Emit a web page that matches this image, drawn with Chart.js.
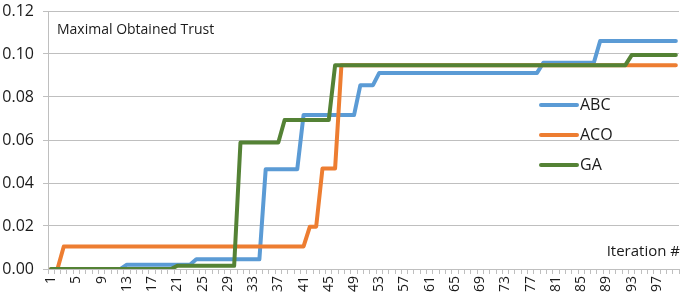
<!DOCTYPE html>
<html lang="en">
<head>
    <meta charset="UTF-8">
    <title>Maximal Obtained Trust</title>
    <script src="https://cdn.jsdelivr.net/npm/chart.js"></script>
    <style>
        body { margin: 0; background: #fff; }
    </style>
</head>
<body>
    <canvas id="trustChart" width="685" height="299"></canvas>
    <script>
        // Iteration numbers 1..100
        const iterations = Array.from({ length: 100 }, (_, i) => String(i + 1));

        const abc = [
            0, 0, 0, 0, 0, 0, 0, 0, 0, 0, 0, 0,
            0.002, 0.002, 0.002, 0.002, 0.002, 0.002, 0.002, 0.002, 0.002, 0.002, 0.002,
            0.0045, 0.0045, 0.0045, 0.0045, 0.0045, 0.0045, 0.0045, 0.0045, 0.0045, 0.0045, 0.0045,
            0.0464, 0.0464, 0.0464, 0.0464, 0.0464, 0.0464,
            0.0716, 0.0716, 0.0716, 0.0716, 0.0716, 0.0716, 0.0716, 0.0716, 0.0716,
            0.0855, 0.0855, 0.0855,
            0.0912, 0.0912, 0.0912, 0.0912, 0.0912, 0.0912, 0.0912, 0.0912, 0.0912, 0.0912,
            0.0912, 0.0912, 0.0912, 0.0912, 0.0912, 0.0912, 0.0912, 0.0912, 0.0912, 0.0912,
            0.0912, 0.0912, 0.0912, 0.0912, 0.0912, 0.0912,
            0.0959, 0.0959, 0.0959, 0.0959, 0.0959, 0.0959, 0.0959, 0.0959, 0.0959,
            0.106, 0.106, 0.106, 0.106, 0.106, 0.106, 0.106, 0.106, 0.106, 0.106, 0.106, 0.106, 0.106
        ];
        const aco = [
            0, 0,
            0.0105, 0.0105, 0.0105, 0.0105, 0.0105, 0.0105, 0.0105, 0.0105, 0.0105, 0.0105,
            0.0105, 0.0105, 0.0105, 0.0105, 0.0105, 0.0105, 0.0105, 0.0105, 0.0105, 0.0105,
            0.0105, 0.0105, 0.0105, 0.0105, 0.0105, 0.0105, 0.0105, 0.0105, 0.0105, 0.0105,
            0.0105, 0.0105, 0.0105, 0.0105, 0.0105, 0.0105, 0.0105, 0.0105, 0.0105,
            0.0197, 0.0197,
            0.0468, 0.0468, 0.0468,
            0.0948, 0.0948, 0.0948, 0.0948, 0.0948, 0.0948, 0.0948, 0.0948, 0.0948, 0.0948,
            0.0948, 0.0948, 0.0948, 0.0948, 0.0948, 0.0948, 0.0948, 0.0948, 0.0948, 0.0948,
            0.0948, 0.0948, 0.0948, 0.0948, 0.0948, 0.0948, 0.0948, 0.0948, 0.0948, 0.0948,
            0.0948, 0.0948, 0.0948, 0.0948, 0.0948, 0.0948, 0.0948, 0.0948, 0.0948, 0.0948,
            0.0948, 0.0948, 0.0948, 0.0948, 0.0948, 0.0948, 0.0948, 0.0948, 0.0948, 0.0948,
            0.0948, 0.0948, 0.0948, 0.0948
        ];
        const ga = [
            0, 0, 0, 0, 0, 0, 0, 0, 0, 0, 0, 0, 0, 0, 0, 0, 0, 0, 0, 0,
            0.0015, 0.0015, 0.0015, 0.0015, 0.0015, 0.0015, 0.0015, 0.0015, 0.0015, 0.0015,
            0.0588, 0.0588, 0.0588, 0.0588, 0.0588, 0.0588, 0.0588,
            0.0693, 0.0693, 0.0693, 0.0693, 0.0693, 0.0693, 0.0693, 0.0693,
            0.0948, 0.0948, 0.0948, 0.0948, 0.0948, 0.0948, 0.0948, 0.0948, 0.0948, 0.0948,
            0.0948, 0.0948, 0.0948, 0.0948, 0.0948, 0.0948, 0.0948, 0.0948, 0.0948, 0.0948,
            0.0948, 0.0948, 0.0948, 0.0948, 0.0948, 0.0948, 0.0948, 0.0948, 0.0948, 0.0948,
            0.0948, 0.0948, 0.0948, 0.0948, 0.0948, 0.0948, 0.0948, 0.0948, 0.0948, 0.0948,
            0.0948, 0.0948, 0.0948, 0.0948, 0.0948, 0.0948, 0.0948,
            0.0995, 0.0995, 0.0995, 0.0995, 0.0995, 0.0995, 0.0995, 0.0995
        ];

        const seriesNames = ['ABC', 'ACO', 'GA'];
        const seriesColors = ['#5B9BD5', '#ED7D31', '#548235'];
        const FONT = '"Open Sans", sans-serif';

        // Title, axis caption and legend drawn inside the plot like the Excel original
        const overlayText = {
            id: 'overlayText',
            afterDraw(chart) {
                const { ctx, chartArea: a } = chart;
                ctx.save();
                ctx.fillStyle = '#1a1a1a';
                ctx.textBaseline = 'middle';
                ctx.font = '14px ' + FONT;
                ctx.textAlign = 'left';
                ctx.fillText('Maximal Obtained Trust', a.left + 9, 30);
                ctx.font = '15px ' + FONT;
                ctx.textAlign = 'right';
                ctx.fillText('Iteration #', a.right + 1, 252);
                ctx.textAlign = 'left';
                ctx.font = '16px ' + FONT;
                seriesNames.forEach((name, i) => {
                    const y = 105 + i * 30;
                    ctx.strokeStyle = seriesColors[i];
                    ctx.lineWidth = 4;
                    ctx.lineCap = 'round';
                    ctx.beginPath();
                    ctx.moveTo(541, y);
                    ctx.lineTo(577, y);
                    ctx.stroke();
                    ctx.fillText(name, 580, y);
                });
                ctx.restore();
            }
        };

        const datasets = [abc, aco, ga].map((vals, i) => ({
            label: seriesNames[i],
            data: vals,
            borderColor: seriesColors[i],
            backgroundColor: seriesColors[i],
            borderWidth: 4,
            borderJoinStyle: 'round',
            borderCapStyle: 'round',
            pointRadius: 0,
            tension: 0,
            order: 2 - i
        }));

        new Chart(document.getElementById('trustChart').getContext('2d'), {
            type: 'line',
            data: { labels: iterations, datasets },
            options: {
                responsive: false,
                animation: false,
                layout: { padding: { top: 11, right: 6, left: 0, bottom: 0 } },
                plugins: { legend: { display: false }, tooltip: { enabled: false } },
                scales: {
                    x: {
                        offset: true,
                        grid: { offset: true, drawOnChartArea: false, drawTicks: true, tickLength: 5, color: '#bfbfbf' },
                        border: { color: '#bfbfbf' },
                        ticks: {
                            autoSkip: false,
                            minRotation: 90,
                            maxRotation: 90,
                            padding: 2,
                            color: '#1a1a1a',
                            font: { family: FONT, size: 14 },
                            callback: (v, i) => (i % 4 === 0 ? iterations[i] : '')
                        },
                        afterFit: s => { s.height = 30; s.paddingLeft = 0; s.paddingRight = 0; }
                    },
                    y: {
                        min: 0,
                        max: 0.12,
                        grid: { color: '#bfbfbf', tickLength: 5 },
                        border: { color: '#bfbfbf' },
                        ticks: {
                            stepSize: 0.02,
                            padding: 9,
                            color: '#1a1a1a',
                            font: { family: FONT, size: 16 },
                            callback: v => v.toFixed(2)
                        },
                        afterFit: s => { s.width = 48; s.paddingTop = 0; s.paddingBottom = 0; }
                    }
                }
            },
            plugins: [overlayText]
        });
    </script>
</body>
</html>
